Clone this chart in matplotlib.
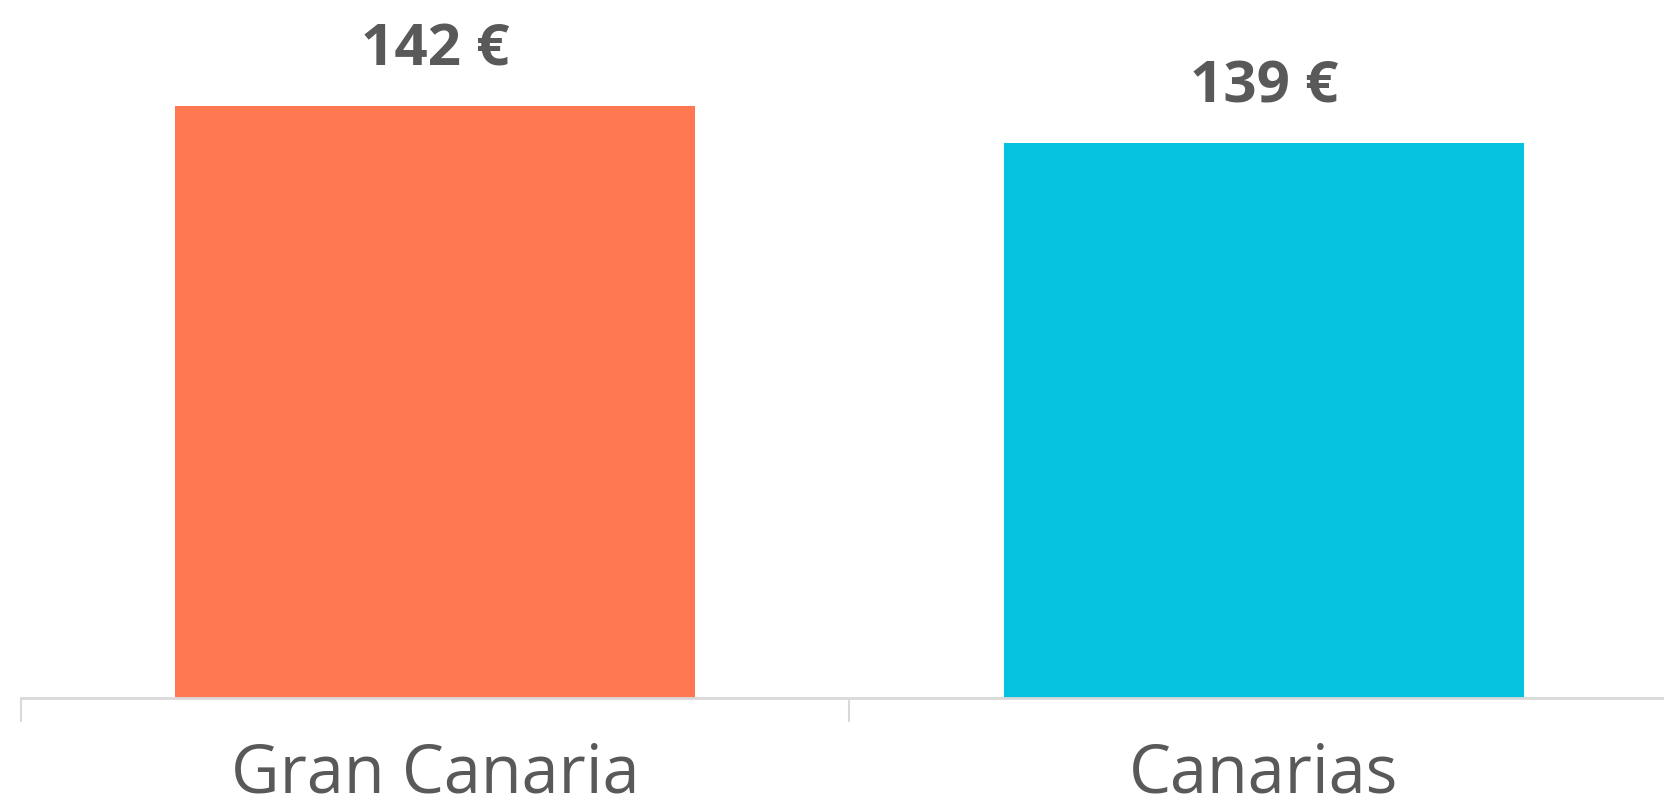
import matplotlib.pyplot as plt

# datos
categorias = ['Gran Canaria', 'Canarias']
valores = [142, 139]
colores = ['#FF7852', '#05C3DE']

plt.rcParams['font.family'] = ['Open Sans', 'DejaVu Sans']

fig = plt.figure(figsize=(16.65, 8.11), dpi=100)
ax = fig.add_axes([21 / 1665, 113 / 811, 1657 / 1665, 698 / 811])

x = list(range(len(categorias)))
bars = ax.bar(x, valores, width=0.628, color=colores)

# etiquetas de valor encima de cada barra
for xi, v in zip(x, valores):
    ax.annotate(f'{v} €', xy=(xi, v), xytext=(0, 29.5), textcoords='offset points',
                ha='center', va='baseline', fontsize=42, fontweight='bold', color='#595959')

ax.set_xlim(-0.5, 1.5)
ax.set_ylim(94, 150.6)

ax.set_xticks(x)
ax.set_xticklabels(categorias, fontsize=48, color='#595959')
ax.set_xticks([-0.5, 0.5, 1.5], minor=True)
ax.tick_params(axis='x', which='major', length=0, pad=31)
ax.tick_params(axis='x', which='minor', length=17, width=1.5, color='#D9D9D9')
ax.set_yticks([])

for s in ['top', 'right', 'left']:
    ax.spines[s].set_visible(False)
ax.spines['bottom'].set_color('#D9D9D9')
ax.spines['bottom'].set_linewidth(2)

fig.savefig('out.png', dpi=100)
